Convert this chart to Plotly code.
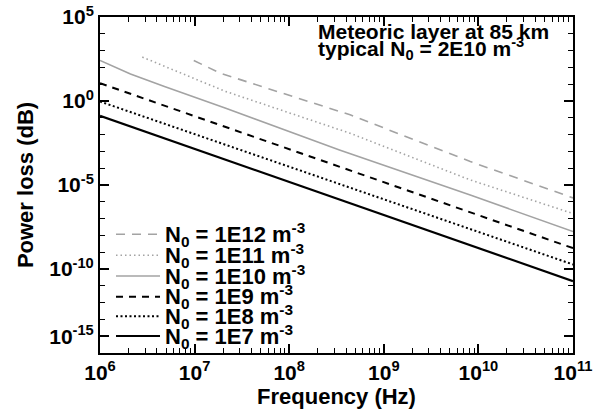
import plotly.graph_objects as go

# ---- data ----
series_labels = ["1E12", "1E11", "1E10", "1E9", "1E8", "1E7"]

freq_1e12 = [9.8e6, 1.85e7, 4.4e8, 8.2e9, 1.0e11]
loss_1e12 = [2.6e2, 4.6e1, 1.5e-1, 2.5e-4, 1.7e-6]

freq_1e11 = [2.8e6, 1.08e7, 2.1e7, 4.4e8, 8.2e9, 1.0e11]
loss_1e11 = [4.1e2, 1.8e1, 3.8e0, 1.2e-2, 2.0e-5, 2.0e-7]

freq_1e10 = [1.0e6, 2.1e6, 4.8e6, 2.1e7, 3.4e8, 8.2e9, 1.0e11]
loss_1e10 = [2.6e2, 4.0e1, 7.2e0, 3.8e-1, 1.2e-3, 2.5e-6, 1.7e-8]

freq_decades = [1e6, 1e7, 1e8, 1e9, 1e10, 1e11]
loss_1e9 = [11.5, 0.126, 1.35e-3, 1.48e-5, 1.6e-7, 1.74e-9]
loss_1e8 = [0.93, 1.07e-2, 1.23e-4, 1.41e-6, 1.62e-8, 1.86e-10]
loss_1e7 = [0.13, 1.41e-3, 1.51e-5, 1.62e-7, 1.74e-9, 1.9e-11]

x_tick_vals = [1e6, 1e7, 1e8, 1e9, 1e10, 1e11]
x_tick_text = ["10<sup>6</sup>", "10<sup>7</sup>", "10<sup>8</sup>", "10<sup>9</sup>",
               "10<sup>10</sup>", "10<sup>11</sup>"]
y_tick_vals = [1e5, 1e0, 1e-5, 1e-10, 1e-14]
y_tick_text = ["10<sup>5</sup>", "10<sup>0</sup>", "10<sup>-5</sup>", "10<sup>-10</sup>",
               "10<sup>-15</sup>"]

# ---- styles ----
GRAY = "#a3a3a3"
styles = {
    "1E12": dict(color=GRAY, width=1.6, dash="9px,7px"),
    "1E11": dict(color=GRAY, width=1.6, dash="1.5px,3px"),
    "1E10": dict(color=GRAY, width=1.6, dash="solid"),
    "1E9": dict(color="black", width=2, dash="7px,6px"),
    "1E8": dict(color="black", width=2, dash="2px,2.5px"),
    "1E7": dict(color="black", width=2.2, dash="solid"),
}
data = {
    "1E12": (freq_1e12, loss_1e12),
    "1E11": (freq_1e11, loss_1e11),
    "1E10": (freq_1e10, loss_1e10),
    "1E9": (freq_decades, loss_1e9),
    "1E8": (freq_decades, loss_1e8),
    "1E7": (freq_decades, loss_1e7),
}

FONT = "Liberation Sans, Arial, Helvetica, sans-serif"
FS = 22
W, H = 601, 412
L, R, T, B = 100, 28, 17, 59
pw, ph = W - L - R, H - T - B

fig = go.Figure()
for name in series_labels:
    fx, fy = data[name]
    fig.add_trace(go.Scatter(x=fx, y=fy, mode="lines", name=f"N0 = {name} m-3",
                             line=styles[name], showlegend=False))

# manual legend (tight rows like the original)
leg_rows_px = [234.3, 255.3, 276, 296.7, 316.3, 336]
shapes, annotations = [], []
for name, ypx in zip(series_labels, leg_rows_px):
    yp = (T + ph - ypx) / ph
    st = styles[name]
    shapes.append(dict(type="line", xref="paper", yref="paper",
                       x0=(116 - L) / pw, x1=(160 - L) / pw, y0=yp, y1=yp,
                       line=dict(color=st["color"], width=st["width"], dash=st["dash"])))
    annotations.append(dict(xref="paper", yref="paper", x=(163 - L) / pw, y=yp,
                            xanchor="left", yanchor="middle", showarrow=False,
                            text=f"N<sub>0</sub> = {name} m<sup>-3</sup>",
                            font=dict(family=FONT, size=FS, color="black", weight="bold")))

annotations.append(dict(xref="paper", yref="paper", x=(316 - L) / pw, y=(T + ph - 32) / ph,
                        xanchor="left", yanchor="middle", showarrow=False,
                        text="Meteoric layer at 85 km",
                        font=dict(family=FONT, size=21, color="black", weight="bold")))
annotations.append(dict(xref="paper", yref="paper", x=(316 - L) / pw, y=(T + ph - 48) / ph,
                        xanchor="left", yanchor="middle", showarrow=False,
                        text="typical N<sub>0</sub> = 2E10 m<sup>-3</sup>",
                        font=dict(family=FONT, size=21, color="black", weight="bold")))

x_minor = [m * 10 ** k for k in range(6, 11) for m in range(2, 10)]
y_minor = [10.0 ** k for k in range(-15, 6) if 10.0 ** k not in y_tick_vals]

axis_common = dict(showgrid=False, zeroline=False, showline=True, linecolor="black",
                   linewidth=2, mirror="ticks", ticks="inside", tickcolor="black",
                   tickwidth=1.6, ticklen=9, tickmode="array", ticklabeloverflow="allow",
                   tickfont=dict(family=FONT, size=21, color="black", weight="bold"))

fig.update_layout(
    width=W, height=H, margin=dict(l=L, r=R, t=T, b=B, autoexpand=False),
    paper_bgcolor="white", plot_bgcolor="white",
    shapes=shapes, annotations=annotations, showlegend=False,
    xaxis=dict(type="log", range=[6, 11], tickvals=x_tick_vals, ticktext=x_tick_text,
               minor=dict(tickmode="array", tickvals=x_minor, ticks="inside", ticklen=5,
                          tickcolor="black", tickwidth=1.4),
               title=dict(text="Frequency (Hz)", standoff=4,
                          font=dict(family=FONT, size=FS, color="black", weight="bold")),
               **axis_common),
    yaxis=dict(type="log", range=[-15, 5], tickvals=y_tick_vals, ticktext=y_tick_text,
               minor=dict(tickmode="array", tickvals=y_minor, ticks="inside", ticklen=5,
                          tickcolor="black", tickwidth=1.4),
               title=dict(text="Power loss (dB)", standoff=10,
                          font=dict(family=FONT, size=FS, color="black", weight="bold")),
               **axis_common),
)

fig.write_html("out.html", config={"displayModeBar": False},
               post_script="document.body.style.margin='0';document.body.style.overflow='hidden';")
